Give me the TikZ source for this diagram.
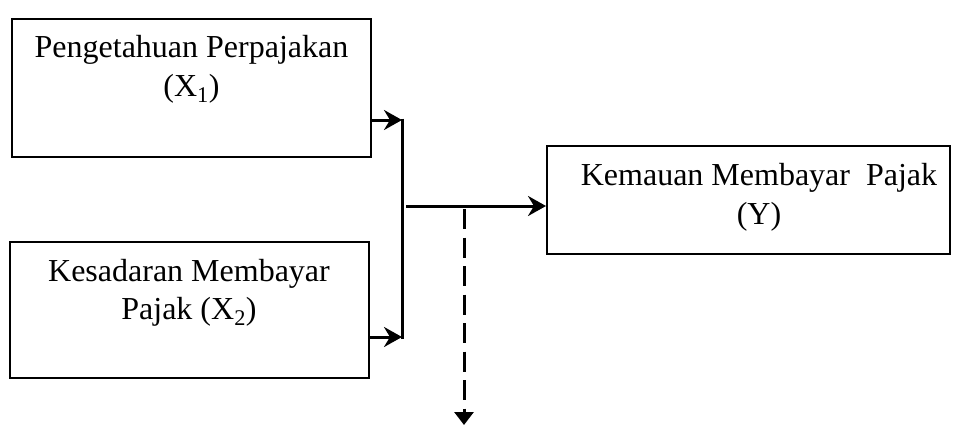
\documentclass[tikz,border=0pt]{standalone}
\usepackage{fontspec}
\setmainfont{Liberation Serif}
\usetikzlibrary{arrows.meta}
\begin{document}
\begin{tikzpicture}[x=1pt,y=-1pt,
  box/.style={draw=black, line width=2pt, rectangle, inner sep=0pt},
  txt/.style={anchor=base, inner sep=0pt, font=\fontsize{32}{38}\selectfont},
  conn/.style={line width=3pt, -{Stealth[length=18pt,width=20pt,inset=6pt]}},
  plain/.style={line width=3pt},
  dashconn/.style={line width=3pt, dash pattern=on 20pt off 8.5pt, -{Triangle[length=13pt,width=19pt]}}
]
\path[use as bounding box] (0,0) rectangle (956,426);
% boxes
\node[box, minimum width=359pt, minimum height=138pt] (x1) at (191.5,88) {};
\node[box, minimum width=359pt, minimum height=136pt] (x2) at (189.5,310) {};
\node[box, minimum width=403pt, minimum height=108pt] (y) at (748.5,200) {};
% texts
\node[txt] (t1a) at (191.5,57.5) {Pengetahuan Perpajakan};
\node[txt] (t1b) at (191.5,96) {(X\textsubscript{1})};
\node[txt] (t2a) at (189,281.7) {Kesadaran Membayar};
\node[txt] (t2b) at (189,319) {Pajak (X\textsubscript{2})};
\node[txt] (t3a) at (759,185.7) {Kemauan Membayar\ \ Pajak};
\node[txt] (t3b) at (759,224) {(Y)};
% junction coordinates
\coordinate (j1) at (402,120);
\coordinate (j2) at (402,337);
\coordinate (h0) at (406,206);
\coordinate (d0) at (464,209);
\coordinate (d1) at (464,425);
% connectors
\draw[conn] (x1.east |- j1) -- (j1);
\draw[conn] (x2.east |- j2) -- (j2);
\draw[plain] ([yshift=1.5pt]j1) -- ([yshift=-1.5pt]j2);
\draw[conn] (h0) -- (y.west |- h0);
\draw[dashconn] (d0) -- (d1);
\end{tikzpicture}
\end{document}
